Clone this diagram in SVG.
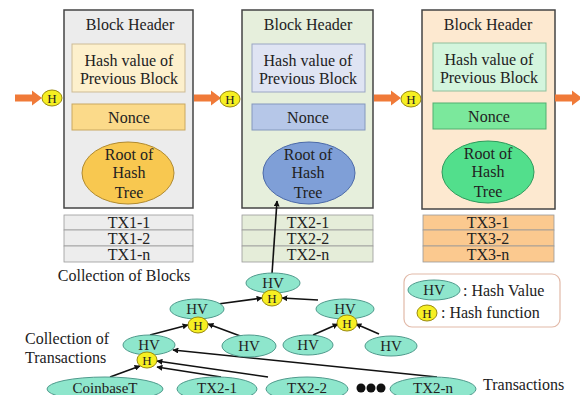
<svg xmlns="http://www.w3.org/2000/svg" width="580" height="395" viewBox="0 0 580 395">
<style>
text{font-family:"Liberation Serif","DejaVu Serif","Times New Roman",serif;fill:#222;text-anchor:middle}
.t{font-size:16px}
.s{font-size:15px}
.blk{stroke:#444;stroke-width:1.5}
.in{stroke-width:1}
.hv{fill:#8ee6cc;stroke:#4f9a8c;stroke-width:1}
.h{fill:#f6ef22;stroke:#9a8a10;stroke-width:1}
.ht{font-size:13px}
.tx{stroke:#999;stroke-width:0.8}
.arr{fill:none;stroke:#111;stroke-width:1.6;marker-end:url(#ah)}
.oa{fill:#f07a38}
.l{text-anchor:start}
</style>
<defs>
<marker id="ah" viewBox="0 0 10 10" refX="9" refY="5" markerWidth="6" markerHeight="6" orient="auto" markerUnits="userSpaceOnUse">
<path d="M0,0 L10,5 L0,10 z" fill="#111"/>
</marker>
<path id="oarrow" d="M0,-3.5 H17 V-7.5 L27,0 L17,7.5 V3.5 H0 z"/>
</defs>
<rect width="580" height="395" fill="#fff"/>

<g id="block1">
<rect class="blk" x="64" y="10" width="129" height="198" fill="#ececec"/>
<text class="t" x="130" y="30">Block Header</text>
<rect class="in" x="72" y="44" width="113" height="48" fill="#fdf0cc" stroke="#cdbb95"/>
<text class="t" x="129" y="66">Hash value of</text>
<text class="t" x="129" y="84">Previous Block</text>
<rect class="in" x="72" y="104" width="113" height="26" fill="#fbda8a" stroke="#c9a860"/>
<text class="t" x="129" y="123">Nonce</text>
<ellipse cx="128" cy="173" rx="46" ry="31" fill="#f8c850" stroke="#b08a30"/>
<text class="t" x="129" y="160">Root of</text>
<text class="t" x="129" y="178">Hash</text>
<text class="t" x="129" y="198">Tree</text>
<rect class="tx" x="64" y="215" width="129" height="15" fill="#ededed"/>
<rect class="tx" x="64" y="230" width="129" height="16" fill="#ededed"/>
<rect class="tx" x="64" y="246" width="129" height="16" fill="#ededed"/>
<text class="t" x="129" y="228">TX1-1</text>
<text class="t" x="129" y="244">TX1-2</text>
<text class="t" x="129" y="260">TX1-n</text>
</g>

<g id="block2">
<rect class="blk" x="242" y="10" width="131" height="198" fill="#e6efdc"/>
<text class="t" x="308" y="30">Block Header</text>
<rect class="in" x="252" y="44" width="113" height="48" fill="#dfe4f3" stroke="#9aa6c4"/>
<text class="t" x="308" y="66">Hash value of</text>
<text class="t" x="308" y="84">Previous Block</text>
<rect class="in" x="252" y="104" width="113" height="26" fill="#b6c7e8" stroke="#8498bd"/>
<text class="t" x="308" y="123">Nonce</text>
<ellipse cx="309" cy="173" rx="46" ry="31" fill="#7f9fd7" stroke="#4c6aa8"/>
<text class="t" x="308" y="160">Root of</text>
<text class="t" x="308" y="178">Hash</text>
<text class="t" x="308" y="198">Tree</text>
<rect class="tx" x="242" y="215" width="131" height="15" fill="#e5edd9"/>
<rect class="tx" x="242" y="230" width="131" height="16" fill="#e5edd9"/>
<rect class="tx" x="242" y="246" width="131" height="16" fill="#e5edd9"/>
<text class="t" x="308" y="228">TX2-1</text>
<text class="t" x="308" y="244">TX2-2</text>
<text class="t" x="308" y="260">TX2-n</text>
</g>

<g id="block3">
<rect class="blk" x="422" y="10" width="133" height="199" fill="#fde9d0"/>
<text class="t" x="488" y="30">Block Header</text>
<rect class="in" x="433" y="43" width="113" height="48" fill="#d3f5dd" stroke="#8fbf9c"/>
<text class="t" x="489" y="65">Hash value of</text>
<text class="t" x="489" y="83">Previous Block</text>
<rect class="in" x="433" y="103" width="113" height="26" fill="#7be89c" stroke="#52b070"/>
<text class="t" x="489" y="122">Nonce</text>
<ellipse cx="488" cy="172" rx="46" ry="31" fill="#52df8c" stroke="#2e9a5c"/>
<text class="t" x="488" y="159">Root of</text>
<text class="t" x="488" y="177">Hash</text>
<text class="t" x="488" y="197">Tree</text>
<rect class="tx" x="423" y="215" width="131" height="15" fill="#fbc98f"/>
<rect class="tx" x="423" y="230" width="131" height="16" fill="#fbc98f"/>
<rect class="tx" x="423" y="246" width="131" height="16" fill="#fbc98f"/>
<text class="t" x="488" y="228">TX3-1</text>
<text class="t" x="488" y="244">TX3-2</text>
<text class="t" x="488" y="260">TX3-n</text>
</g>

<g id="labels">
<text class="t" x="124" y="281">Collection of Blocks</text>
<text class="t l" x="25" y="344">Collection of</text>
<text class="t l" x="25" y="363">Transactions</text>
<text class="t l" x="483" y="390">Transactions</text>
</g>

<g id="legend">
<rect x="404" y="274" width="156" height="53" rx="8" fill="#fff" stroke="#e2b9a8" stroke-width="1.2"/>
<ellipse class="hv" cx="434" cy="290" rx="26" ry="10"/>
<text class="s" x="434" y="295">HV</text>
<text class="t l" x="463" y="296">: Hash Value</text>
<ellipse class="h" cx="427" cy="313" rx="10" ry="8"/>
<text class="ht" x="427" y="318">H</text>
<text class="t l" x="441" y="318">: Hash function</text>
</g>

<g id="connectors">
<use href="#oarrow" x="15" y="98" class="oa"/>
<use href="#oarrow" x="194" y="98" class="oa"/>
<use href="#oarrow" x="374" y="98" class="oa"/>
<use href="#oarrow" x="555" y="98" class="oa"/>
<line class="arr" x1="272" y1="274" x2="277" y2="201"/>
<line class="arr" x1="218" y1="304" x2="262" y2="298"/>
<line class="arr" x1="318" y1="300" x2="282" y2="298"/>
<line class="arr" x1="150" y1="335" x2="188" y2="325"/>
<line class="arr" x1="243" y1="337" x2="208" y2="324"/>
<line class="arr" x1="313" y1="335" x2="338" y2="324"/>
<line class="arr" x1="379" y1="334" x2="356" y2="324"/>
<line class="arr" x1="110" y1="377" x2="140" y2="366"/>
<line class="arr" x1="221" y1="377" x2="157" y2="367"/>
<line class="arr" x1="268" y1="377" x2="157" y2="361"/>
<line class="arr" x1="437" y1="377" x2="173" y2="350"/>
</g>

<g id="h-chain">
<ellipse class="h" cx="52" cy="98" rx="10" ry="8"/><text class="ht" x="52" y="103">H</text>
<ellipse class="h" cx="230" cy="99" rx="10" ry="8"/><text class="ht" x="230" y="104">H</text>
<ellipse class="h" cx="411" cy="99" rx="10" ry="8"/><text class="ht" x="411" y="104">H</text>
</g>

<g id="tree">
<g id="hv-root"><ellipse class="hv" cx="273" cy="283" rx="27" ry="10"/><text class="s" x="273" y="288">HV</text></g>
<g id="h-root"><ellipse class="h" cx="272" cy="298" rx="10" ry="8"/><text class="ht" x="272" y="303">H</text></g>
<g id="hv-l2a"><ellipse class="hv" cx="197" cy="309" rx="27" ry="10"/><text class="s" x="197" y="314">HV</text></g>
<g id="h-l2a"><ellipse class="h" cx="198" cy="325" rx="10" ry="8"/><text class="ht" x="198" y="330">H</text></g>
<g id="hv-l2b"><ellipse class="hv" cx="345" cy="309" rx="29" ry="10"/><text class="s" x="345" y="314">HV</text></g>
<g id="h-l2b"><ellipse class="h" cx="347" cy="323" rx="10" ry="8"/><text class="ht" x="347" y="328">H</text></g>
<g id="hv-l3a"><ellipse class="hv" cx="149" cy="345" rx="26" ry="10"/><text class="s" x="149" y="350">HV</text></g>
<g id="h-l3a"><ellipse class="h" cx="147" cy="360" rx="10" ry="8"/><text class="ht" x="147" y="365">H</text></g>
<g id="hv-l3b"><ellipse class="hv" cx="249" cy="346" rx="27" ry="11"/><text class="s" x="249" y="351">HV</text></g>
<g id="hv-l3c"><ellipse class="hv" cx="308" cy="345" rx="25" ry="10"/><text class="s" x="308" y="350">HV</text></g>
<g id="hv-l3d"><ellipse class="hv" cx="391" cy="346" rx="26" ry="10"/><text class="s" x="391" y="351">HV</text></g>
<g id="tx-coinbase"><ellipse class="hv" cx="105" cy="389" rx="58" ry="12"/><text class="s" x="105" y="393">CoinbaseT</text></g>
<g id="tx2-1"><ellipse class="hv" cx="217" cy="389" rx="40" ry="12"/><text class="s" x="217" y="393">TX2-1</text></g>
<g id="tx2-2"><ellipse class="hv" cx="307" cy="389" rx="41" ry="12"/><text class="s" x="307" y="393">TX2-2</text></g>
<g id="dots"><circle cx="361" cy="388" r="4.5" fill="#111"/><circle cx="371" cy="388" r="4.5" fill="#111"/><circle cx="381" cy="388" r="4.5" fill="#111"/></g>
<g id="tx2-n"><ellipse class="hv" cx="433" cy="389" rx="43" ry="12"/><text class="s" x="433" y="393">TX2-n</text></g>
</g>
</svg>
